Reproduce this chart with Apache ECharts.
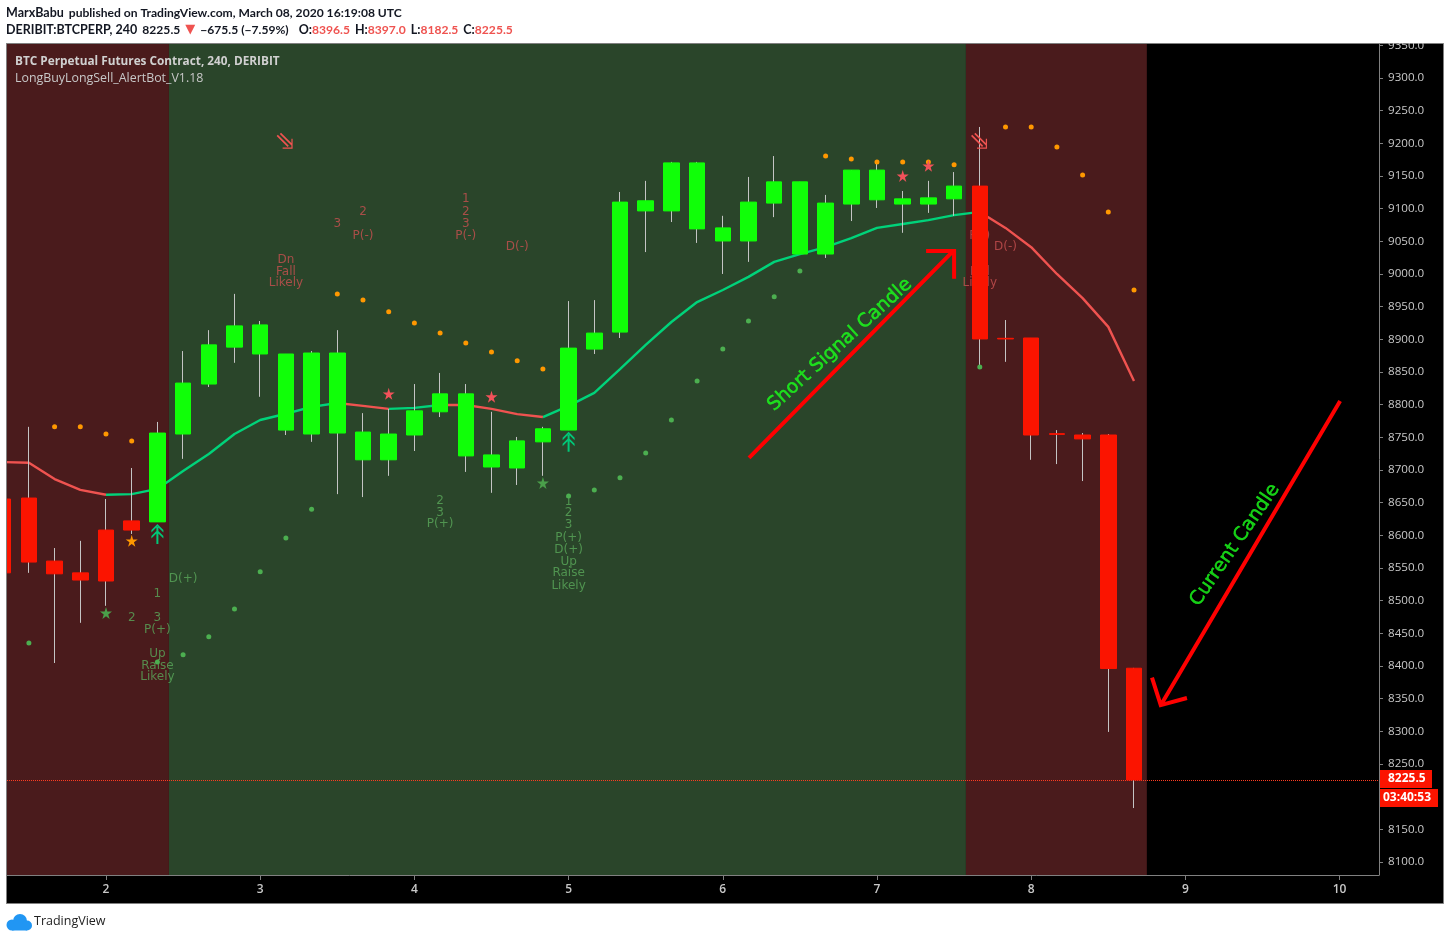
<!DOCTYPE html>
<html><head><meta charset="utf-8">
<style>html,body{margin:0;padding:0;background:#fff}#c{width:1450px;height:940px}</style>
<script src="https://cdn.jsdelivr.net/npm/echarts@6/dist/echarts.min.js"></script>
</head><body><div id="c"></div>
<script>
// ---- data -----------------------------------------------------------------
const barIdx = [-4,-3,-2,-1,0,1,2,3,4,5,6,7,8,9,10,11,12,13,14,15,16,17,18,19,20,21,22,23,24,25,26,27,28,29,30,31,32,33,34,35,36,37,38,39,40];
const opens  = [8655.5,8657,8560.5,8542.5,8608,8622,8620.5,8755,8831.5,8888,8877.5,8761,8755,8756.5,8715.5,8715.5,8753.5,8789,8721.5,8704.5,8703,8743,8761,8885,8911,9096.5,9096.5,9069,9050.5,9050.5,9108.5,9030.5,9030.5,9107,9113.5,9107,9107,9115,9134.5,8901.5,8902,8755.5,8753.5,8753.5,8396.5];
const closes = [8542.5,8559,8541,8531.5,8530,8608,8756.5,8833,8891.5,8920.5,8922,8877.5,8879,8879,8758,8755,8790.5,8816.5,8816.5,8723,8744.5,8763,8886.5,8909.5,9110,9112,9170,9170,9070.5,9110,9141,9141,9108.5,9159,9159,9115,9116.5,9134.5,8900.5,8900.5,8753.5,8754.5,8747.5,8396,8225.5];
const lows   = [8530,8542.5,8404.5,8466,8492,8602,8620.5,8717,8827,8864,8812,8753.5,8743,8663,8658.5,8691,8729,8781,8697,8665,8677,8691,8761,8877.5,8902,9033.5,9079.5,9047.5,9000,9018.5,9087,9030.5,9024.5,9081,9101,9063,9093.5,9089,8857.5,8865.5,8715.5,8709,8683,8299,8182.5];
const highs  = [8680,8766,8580.5,8591.5,8655.5,8703,8773.5,8882,8914,8969.5,8928,8877.5,8882,8914,8787,8793.5,8831.5,8848.5,8831.5,8789,8750.5,8766,8958.5,8960,9125.5,9142.5,9171.5,9171.5,9089,9148.5,9180.5,9141,9121,9159,9174.5,9127,9142.5,9156,9225,8929.5,8902,8761,8756.5,8755,8397];

const maVals = [8712,8711,8686,8669.5,8662,8663,8671,8698.5,8724.5,8755,8776.5,8786,8796.5,8802.5,8798,8793.5,8795,8799.5,8799.5,8793.5,8785.5,8781,8798,8818,8854.5,8891.5,8926.5,8957,8975.5,8995.5,9018.5,9030.5,9041,9055,9070.5,9076.5,9082.5,9090,9095,9070.5,9041,9000,8963,8919,8836];
const maGreenRuns = [[0,9],[11,13],[17,34]];
const maRedRuns   = [[-4,0],[9,11],[13,17],[34,40]];

const orangeBars = [-2,-1,0,1,9,10,11,12,13,14,15,16,17,28,29,30,31,32,33,35,36,37,38,39,40];
const orangeVals = [8766,8766,8755,8744.5,8969.5,8960,8942,8925,8909.5,8894.5,8880.5,8867,8854.5,9180.5,9176,9171.5,9171.5,9171.5,9167,9225,9225,9194.5,9151.5,9095,8975.5];
const greenBars  = [-3,2,3,4,5,6,7,8,18,19,20,21,22,23,24,25,26,27,34];
const greenVals  = [8435,8406,8417,8444.5,8487,8544,8596,8640,8660,8669.5,8688,8726,8776.5,8836,8885,8928,8965,9004.5,8857.5];

const starsGreen  = [[0,8481],[17,8680]];
const starsOrange = [[1,8591.5]];
const starsRed    = [[11,8816.5],[15,8812],[31,9150],[32,9165.5]];
const arrowsUp    = [[2,8602],[18,8743]];
const arrowsDown  = [[6.95,9204],[33.97,9204]];

const greenSignals = [[3,8536,'D(+)'],[2,8513,'1'],[1,8476.5,'2'],[2,8476.5,'3'],[2,8458,'P(+)'],[2,8421.5,'Up'],[2,8403,'Raise'],[2,8385,'Likely'],
  [13,8655.5,'2'],[13,8637,'3'],[13,8619,'P(+)'],
  [18,8654,'1'],[18,8636,'2'],[18,8617.5,'3'],[18,8599,'P(+)'],[18,8580.5,'D(+)'],[18,8562,'Up'],[18,8544,'Raise'],[18,8525.5,'Likely']];
const redSignals = [[10,9098,'2'],[9,9079.5,'3'],[10,9061,'P(-)'],[7,9024.5,'Dn'],[7,9006,'Fall'],[7,8988,'Likely'],
  [14,9116.5,'1'],[14,9098,'2'],[14,9079.5,'3'],[14,9061,'P(-)'],[16,9043,'D(-)'],
  [34,9061,'P(-)'],[35,9043,'D(-)'],[34,9024.5,'Dn'],[34,9006,'Fall'],[34,8988,'Likely']];

const regimes = [[-3.852,2.45,'#4a1b1c'],[2.45,33.46,'#2a452a'],[33.46,40.5,'#4a1b1c']];
const shortArrow = [[25.02,8718.5],[32.96,9035],[32.96,'-'],[31.91,9035],[33,9035],[33,8992.5]];
const currentArrow = [[48.02,8805.5],[41.04,8340],[41.04,'-'],[40.7,8382],[41.04,8340],[42.06,8351]];
const notes = [[28.56,8891.5,'Short Signal Candle',42.3],[43.93,8585,'Current Candle',55.6]];

const dayTickBars = [0,6,12,18,24,30,36,42,48];
const dayLabels   = ['2','3','4','5','6','7','8','9','10'];
const priceTicks  = [8100,8150,8250,8300,8350,8400,8450,8500,8550,8600,8650,8700,8750,8800,8850,8900,8950,9000,9050,9100,9150,9200,9250,9300,9350];
const lastPrice = 8225.5;
const countdown = '03:40:53';

// ---- helpers --------------------------------------------------------------
const UI = '"Open Sans",sans-serif';
const LATO = 'Lato,sans-serif';
const RED='#fb1400', GREEN='#10ff08';
const wickData = barIdx.map((k,i)=>[k,opens[i],closes[i],lows[i],highs[i]]);
const bodyData = barIdx.map((k,i)=>[k,opens[i],closes[i],Math.min(opens[i],closes[i]),Math.max(opens[i],closes[i])]);
const runSeries = (runs)=>{ const out=[]; runs.forEach(r=>{ for(let k=r[0];k<=r[1];k++) out.push([k,maVals[barIdx.indexOf(k)]]); out.push([r[1],'-']); }); return out; };
const STAR='path://M50 0 L61 35 L98 35 L68 57 L79 92 L50 70 L21 92 L32 57 L2 35 L39 35 Z';
const UP='path://M5 3 L7 3 L7 20 L5 20 Z M0 6 L6 0 L12 6 L12 8.5 L6 2.5 L0 8.5 Z M0 12 L6 6 L12 12 L12 14.5 L6 8.5 L0 14.5 Z';
const DOWN='path://M0 3.2 L1.2 2 L12.2 13 L11 14.2 Z M3.2 1.2 L4.4 0 L16 11.6 L14.8 12.8 Z M14.8 6 L16 6 L16 16 L14.8 16 Z M6 14.8 L16 14.8 L16 16 L6 16 Z';
const pts=(name,data,color,symbol,size,z,o)=>({name,type:'scatter',data,symbol,symbolSize:size,z,silent:true,itemStyle:{color,opacity:o===undefined?1:o}});
const txt=(name,data,color)=>({name,type:'scatter',z:2,silent:true,symbolSize:1,itemStyle:{color:'transparent'},
  data:data.map(d=>({value:[d[0],d[1]],label:{formatter:d[2]}})),
  label:{show:true,position:'inside',offset:[0,1.5],color,fontFamily:'"DejaVu Sans"',fontSize:12}});
const arrow=(name,data)=>({name,type:'line',data,z:7,silent:true,showSymbol:false,symbol:'none',lineStyle:{color:'#ff0000',width:4,join:'miter',cap:'butt'},connectNulls:false});

const chart = echarts.init(document.getElementById('c'),null,{renderer:'canvas'});
const series = [
  {name:'regime',type:'line',data:[],silent:true,markArea:{silent:true,z:1,data:regimes.map(r=>[{xAxis:r[0],itemStyle:{color:r[2],opacity:1}},{xAxis:r[1]}])}},
  txt('greenText',greenSignals,'#5aa85a'),
  txt('redText',redSignals,'#c85050'),
  {name:'maGreen',type:'line',z:3,silent:true,showSymbol:false,symbol:'none',data:runSeries(maGreenRuns),lineStyle:{color:'#00d37a',width:2.4}},
  {name:'maRed',type:'line',z:3,silent:true,showSymbol:false,symbol:'none',data:runSeries(maRedRuns),lineStyle:{color:'#ef5350',width:2.4},
   markLine:{silent:true,symbol:'none',z:3,label:{show:false},lineStyle:{color:'#ff3b20',type:'dotted',width:1},data:[{yAxis:lastPrice}]}},
  {name:'wick',type:'candlestick',z:4,silent:true,barWidth:1,data:wickData,encode:{x:0,y:[1,2,3,4]},
   itemStyle:{color:'#c4c4c4',color0:'#c4c4c4',borderColor:'#c4c4c4',borderColor0:'#c4c4c4',borderWidth:1}},
  {name:'body',type:'candlestick',z:5,silent:true,barWidth:16,data:bodyData,encode:{x:0,y:[1,2,3,4]},
   itemStyle:{color:GREEN,color0:RED,borderColor:GREEN,borderColor0:RED,borderWidth:1}},
  pts('sarOrange',orangeBars.map((k,i)=>[k,orangeVals[i]]),'#ff9800','circle',5,6),
  pts('sarGreen',greenBars.map((k,i)=>[k,greenVals[i]]),'#4caf50','circle',5,6),
  pts('starGreen',starsGreen,'#4a9f4a',STAR,12,7),
  pts('starOrange',starsOrange,'#ff9800',STAR,12,7),
  pts('starRed',starsRed,'#f2525a',STAR,12,7),
  pts('arrowUp',arrowsUp,'#00c878',UP,[12,20],7),
  pts('arrowDown',arrowsDown,'#ef5350',DOWN,[16,16],7),
  arrow('shortArrow',shortArrow),
  arrow('currentArrow',currentArrow),
  {name:'notes',type:'scatter',z:8,silent:true,symbolSize:1,itemStyle:{color:'transparent'},
   data:notes.map(n=>({value:[n[0],n[1]],label:{formatter:n[2],rotate:n[3]}})),
   label:{show:true,position:'inside',color:'#1cff1c',textBorderColor:'#1cff1c',textBorderWidth:0.5,fontFamily:'"DejaVu Sans"',fontSize:19}}
];
const rich={b:{fontWeight:'bold',color:'#131722',fontFamily:LATO,fontSize:12.5},n:{color:'#131722',fontFamily:LATO,fontSize:12.1},r:{color:'#ef5350',fontFamily:LATO,fontSize:12.1},t:{color:'#ef5350',fontFamily:'"DejaVu Sans"',fontSize:13}};
const option={
  animation:false,
  backgroundColor:'#ffffff',
  title:[
    {left:6,top:4,padding:0,text:'{b|MarxBabu} {n|published on TradingView.com, March 08, 2020 16:19:08 UTC}',textStyle:{rich}},
    {left:6,top:21,padding:0,text:'{b|DERIBIT:BTCPERP, 240} {n|8225.5} {t|▼} {n|−675.5 (−7.59%)}  {b|O:}{r|8396.5} {b|H:}{r|8397.0} {b|L:}{r|8182.5} {b|C:}{r|8225.5}',textStyle:{rich}},
    {left:15,top:56,padding:0,text:'BTC Perpetual Futures Contract, 240, DERIBIT',textStyle:{color:'#d0d0d0',fontFamily:UI,fontSize:11.8,fontWeight:'bold'}},
    {left:15,top:72,padding:0,text:'LongBuyLongSell_AlertBot_V1.18',textStyle:{color:'#c8c8c8',fontFamily:UI,fontSize:12.4,fontWeight:'normal'}},
    {left:34,top:915,padding:0,text:'TradingView',textStyle:{color:'#222',fontFamily:UI,fontSize:12.5,fontWeight:'normal'}}
  ],
  grid:{left:7,right:71,top:44,bottom:65,show:true,backgroundColor:'#000',borderWidth:0},
  xAxis:{type:'value',min:-3.852,max:49.533,splitLine:{show:false},
    axisLine:{show:true,onZero:false,lineStyle:{color:'#808080'}},
    axisTick:{show:true,length:5,customValues:dayTickBars,lineStyle:{color:'#808080'}},
    axisLabel:{customValues:dayTickBars,color:'#c8c8c8',fontFamily:UI,fontSize:12,fontWeight:'600',margin:9,
      formatter:v=>dayLabels[dayTickBars.indexOf(v)]}},
  yAxis:{type:'value',position:'right',min:8080,max:9352,scale:true,splitLine:{show:false},
    axisLine:{show:true,onZero:false,lineStyle:{color:'#808080'}},
    axisTick:{show:true,length:4,customValues:priceTicks,lineStyle:{color:'#808080'}},
    axisLabel:{customValues:priceTicks,color:'#c8c8c8',fontFamily:UI,fontSize:11.6,margin:9,padding:[2,0,0,0],formatter:v=>v.toFixed(1)}},
  series,
  graphic:[]
};
chart.setOption(option);
const yLast=Math.round(chart.convertToPixel({yAxisIndex:0},lastPrice));
const blue='#2196f3';
chart.setOption({graphic:[
  {type:'rect',z:-1,silent:true,shape:{x:6.5,y:43.5,width:1437,height:860},style:{fill:'#000',stroke:'#808080',lineWidth:1}},
  {type:'rect',z:1,silent:true,shape:{x:0,y:0,width:1450,height:43},style:{fill:'#fff'}},
  {type:'rect',z:10,silent:true,shape:{x:0,y:43,width:6,height:862},style:{fill:'#fff'}},
  {type:'line',z:10,silent:true,shape:{x1:6.5,y1:43.5,x2:6.5,y2:903.5},style:{stroke:'#808080',lineWidth:1}},
  {type:'circle',z:1,silent:true,shape:{cx:12,cy:925,r:5.5},style:{fill:blue}},
  {type:'circle',z:1,silent:true,shape:{cx:20,cy:921,r:7},style:{fill:blue}},
  {type:'circle',z:1,silent:true,shape:{cx:27,cy:925.5,r:5},style:{fill:blue}},
  {type:'rect',z:1,silent:true,shape:{x:12,y:924,width:15,height:6.5},style:{fill:blue}},
  {type:'rect',z:20,silent:true,shape:{x:1380,y:yLast-10,width:52,height:18},style:{fill:RED}},
  {type:'text',z:21,silent:true,x:1388,y:yLast-7,style:{text:lastPrice.toFixed(1),fill:'#fff',font:'bold 12px "Open Sans"'}},
  {type:'rect',z:20,silent:true,shape:{x:1380,y:yLast+9,width:58,height:18},style:{fill:RED}},
  {type:'text',z:21,silent:true,x:1383,y:yLast+12,style:{text:countdown,fill:'#fff',font:'bold 12px "Open Sans"'}}
]});
</script></body></html>
